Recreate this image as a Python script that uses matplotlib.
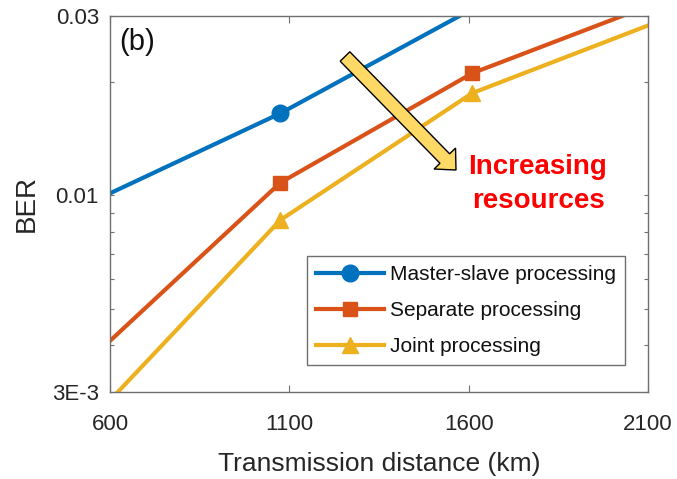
import matplotlib
matplotlib.use("Agg")
import matplotlib.pyplot as plt
from matplotlib.patches import FancyArrow
from matplotlib.transforms import IdentityTransform
from matplotlib.ticker import FixedLocator, NullFormatter

plt.rcParams['font.family'] = ['Liberation Sans', 'DejaVu Sans']

# Transmission distance (km) and BER for each processing scheme
distance_km = [540, 1075, 1610, 2145]
ber_master_slave = [0.00952, 0.01653, 0.0313, 0.055]
ber_separate = [0.00363, 0.01081, 0.02113, 0.0331]
ber_joint = [0.00248, 0.0086, 0.01871, 0.0294]

series_labels = ["Master-slave processing", "Separate processing", "Joint processing"]
x_ticks = [600, 1100, 1600, 2100]
y_major = [0.003, 0.01, 0.03]
y_major_labels = ["3E-3", "0.01", "0.03"]
y_minor = [0.004, 0.005, 0.006, 0.007, 0.008, 0.009, 0.02]

colors = ["#0072BD", "#D95319", "#EDB120"]
markers = ["o", "s", "^"]
msizes = [12, 10, 12]

fig = plt.figure(figsize=(6.77, 4.79), dpi=100)
ax = fig.add_axes([110 / 677, 87 / 479, 538 / 677, 376 / 479])

xlo, xhi = 600, 2100
for ys, c, m, ms, lab in zip([ber_master_slave, ber_separate, ber_joint],
                             colors, markers, msizes, series_labels):
    # markers only where the point itself lies inside the plotting window
    shown = [i for i, (x, y) in enumerate(zip(distance_km, ys))
             if xlo <= x <= xhi and 0.003 <= y <= 0.03]
    ax.plot(distance_km, ys, color=c, lw=3, marker=m, ms=ms, label=lab,
            markevery=shown)

ax.set_yscale('log')
ax.set_xlim(xlo, xhi)
ax.set_ylim(0.003, 0.03)

ax.set_xticks(x_ticks)
ax.set_xticklabels([str(v) for v in x_ticks])
ax.yaxis.set_major_locator(FixedLocator(y_major))
ax.set_yticklabels(y_major_labels)
ax.yaxis.set_minor_locator(FixedLocator(y_minor))
ax.yaxis.set_minor_formatter(NullFormatter())

spine_col = "#707070"
for s in ax.spines.values():
    s.set_color(spine_col)
    s.set_linewidth(1.0)

ax.tick_params(axis='x', which='both', direction='in', top=True, length=5,
               width=0.8, color=spine_col, labelsize=16, labelcolor='#262626', pad=16)
ax.tick_params(axis='y', which='both', direction='in', right=True, length=3,
               width=0.8, color=spine_col, labelsize=16, labelcolor='#262626', pad=8)

ax.set_xlabel("Transmission distance (km)", fontsize=19, color='#262626', labelpad=12)
ax.set_ylabel("BER", fontsize=20, color='#262626', labelpad=9)

ax.text(0.018, 0.968, "(b)", transform=ax.transAxes, fontsize=21,
        ha='left', va='top', color='#111111')

leg = ax.legend(loc='lower right', bbox_to_anchor=(0.957, 0.072), fontsize=15,
                frameon=True, fancybox=False, framealpha=1, edgecolor='#707070',
                handlelength=3.25, handletextpad=0.3, borderpad=0.42,
                labelspacing=0.82, borderaxespad=0)
leg.get_frame().set_linewidth(1.0)
for t in leg.get_texts():
    t.set_color('#111111')

# Block arrow indicating increasing resources
arrow = FancyArrow(345, 479 - 56.5, 111, -113.5, width=13.5, head_width=30,
                   head_length=16, length_includes_head=True,
                   facecolor='#FFD966', edgecolor='black', linewidth=1.0,
                   transform=IdentityTransform())
fig.add_artist(arrow)

fig.text(538 / 677, 1 - 184 / 479, "Increasing\nresources", color='#FF0000',
         fontsize=20, fontweight='bold', ha='center', va='center',
         linespacing=1.35)

fig.savefig("out.png", dpi=100)
